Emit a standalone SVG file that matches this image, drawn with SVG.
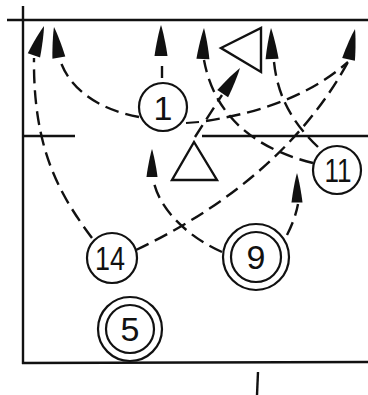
<svg xmlns="http://www.w3.org/2000/svg" width="368" height="395" viewBox="0 0 368 395">
<defs>
<style>
.frame{stroke:#111;stroke-width:2.4;fill:none}
.c{stroke:#111;stroke-width:2.2;fill:#fff}
.d{stroke:#111;stroke-width:2.4;fill:none;stroke-dasharray:14 7}
.s{stroke:#111;stroke-width:2.2;fill:none}
.t{font-family:"Liberation Sans",Arial,sans-serif;font-size:34px;fill:#111;text-anchor:middle}
.ah{fill:#111}
.tri{stroke:#111;stroke-width:2.4;fill:#fff;stroke-linejoin:miter}
</style>
<path id="head" d="M0,0 C2,6 5,20 6.5,31 L-6.5,31 C-5,20 -2,6 0,0 Z"/>
</defs>
<rect width="368" height="395" fill="#fff"/>
<g id="court">
<line class="frame" x1="7" y1="20" x2="368" y2="20"/>
<line class="frame" x1="23" y1="6" x2="23" y2="364"/>
<line class="frame" x1="22" y1="363" x2="368" y2="362"/>
<line class="frame" x1="22" y1="136" x2="75" y2="136"/>
<line class="frame" x1="202" y1="136" x2="368" y2="136"/>
<line class="frame" x1="258" y1="372" x2="257" y2="395"/>
</g>
<g id="connectors">
<path class="d" d="M92,238 C60,195 33,150 34,58"/>
<path class="d" d="M139,117 C100,110 70,90 60,60"/>
<path class="d" d="M162,78 L162,60" style="stroke-dasharray:12 6"/>
<path class="d" d="M313,163 C260,150 215,120 204,60"/>
<path class="d" d="M318,147 C295,125 278,100 274,62"/>
<path class="s" d="M186,123 L199,122"/>
<path class="d" d="M206,121 C250,114 305,100 348,62"/>
<path class="d" d="M136,250 C220,210 300,150 348,62"/>
<path class="d" d="M195,137 L222,95"/>
<path class="d" d="M222,252 C190,238 158,210 153,178"/>
<path class="d" d="M287,235 C292,225 296,215 298,204"/>
<use href="#head" class="ah" transform="translate(44,26) rotate(19)"/>
<use href="#head" class="ah" transform="translate(54,27) rotate(-9)"/>
<use href="#head" class="ah" transform="translate(161,25) rotate(0)"/>
<use href="#head" class="ah" transform="translate(204,28) rotate(2)"/>
<use href="#head" class="ah" transform="translate(271,28) rotate(-2)"/>
<use href="#head" class="ah" transform="translate(355,29) rotate(12)"/>
<use href="#head" class="ah" transform="translate(240,68) rotate(34)"/>
<use href="#head" class="ah" transform="translate(152,149) scale(0.85,0.9)"/>
<use href="#head" class="ah" transform="translate(297,173) scale(0.85,0.95)"/>
</g>
<g id="def1"><polygon class="tri" points="221,48 261,28 261,72"/></g>
<g id="def2"><polygon class="tri" points="194,142 172,180 217,180"/></g>
<g id="p1"><circle class="c" cx="163" cy="107" r="24"/><text class="t" x="163" y="120">1</text></g>
<g id="p11"><circle class="c" cx="337" cy="170" r="24"/><text class="t" x="338" y="182" textLength="27" lengthAdjust="spacingAndGlyphs">11</text></g>
<g id="p14"><circle class="c" cx="112" cy="258" r="25"/><text class="t" x="110" y="270" textLength="30" lengthAdjust="spacingAndGlyphs">14</text></g>
<g id="p9"><circle class="c" cx="256" cy="257" r="33"/><circle class="c" cx="256" cy="257" r="25"/><text class="t" x="256" y="269">9</text></g>
<g id="p5"><circle class="c" cx="130" cy="329" r="32"/><circle class="c" cx="130" cy="329" r="24"/><text class="t" x="130" y="341">5</text></g>
</svg>
